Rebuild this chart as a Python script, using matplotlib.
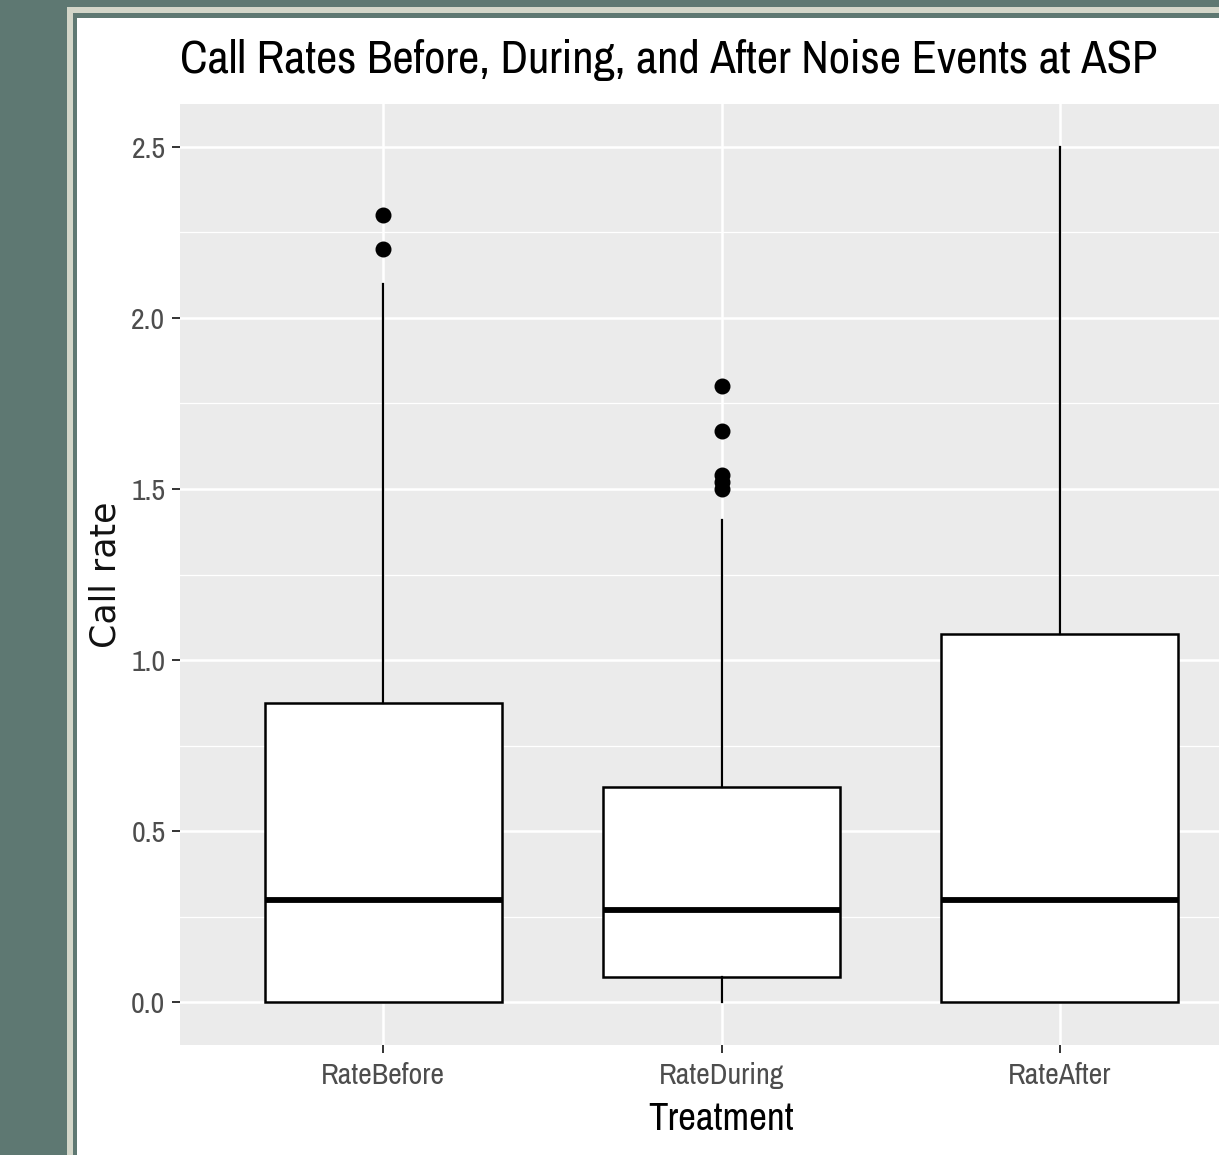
import matplotlib
matplotlib.use("Agg")
import matplotlib.pyplot as plt
from matplotlib import font_manager
from matplotlib.patches import Rectangle

# data
treatments = ["RateBefore", "RateDuring", "RateAfter"]
q1 = [0.0, 0.073, 0.0]
medians = [0.30, 0.27, 0.30]
q3 = [0.875, 0.63, 1.075]
whisker_low = [0.0, 0.0, 0.0]
whisker_high = [2.10, 1.41, 2.50]
outliers = [[2.30, 2.20], [1.80, 1.67, 1.54, 1.52, 1.50], []]
y_ticks = [0.0, 0.5, 1.0, 1.5, 2.0, 2.5]
title = "Call Rates Before, During, and After Noise Events at ASP"

W, H = 1219, 1155

# the reference text looks squeezed, use a narrow face if one exists
names = sorted({f.name for f in font_manager.fontManager.ttflist})
narrow_names = [n for n in names if "Narrow" in n or "Condensed" in n]
narrow = narrow_names[:1] + ["Liberation Sans", "DejaVu Sans"]

fig = plt.figure(figsize=(W / 100, H / 100), dpi=100)
fig.patch.set_facecolor("#5e7872")


def frame_rect(x0, y0, color):
    # rectangle from pixel (x0, y0) to the bottom-right corner of the image
    fig.add_artist(Rectangle((x0 / W, 0), 1 - x0 / W + 0.01, 1 - y0 / H,
                             transform=fig.transFigure, facecolor=color,
                             edgecolor="none", zorder=-10))


def fit_size(txt, family, width_px, start=30):
    # font size that makes txt about width_px wide
    t = fig.text(0, 0, txt, family=family, fontsize=start)
    w = t.get_window_extent(fig.canvas.get_renderer()).width
    t.remove()
    return start * width_px / w


frame_rect(67, 7, "#d3d6c9")
frame_rect(73, 13, "#5e7872")
frame_rect(77, 18, "white")

ax = fig.add_axes([180 / W, (H - 1045) / H, (1263 - 180) / W, (1045 - 104) / H])
ax.set_facecolor("#ebebeb")
for s in ax.spines.values():
    s.set_visible(False)

stats = []
for i, name in enumerate(treatments):
    stats.append(dict(label=name, q1=q1[i], med=medians[i], q3=q3[i],
                      whislo=whisker_low[i], whishi=whisker_high[i],
                      fliers=outliers[i]))

ax.bxp(stats, positions=[1, 2, 3], widths=0.70, showcaps=False,
       patch_artist=True,
       boxprops=dict(facecolor="white", edgecolor="black", linewidth=1.8),
       medianprops=dict(color="black", linewidth=4.2, solid_capstyle="butt"),
       whiskerprops=dict(color="black", linewidth=1.6),
       flierprops=dict(marker="o", markerfacecolor="black",
                       markeredgecolor="black", markersize=10.5),
       zorder=3)

ax.set_xlim(0.4, 3.6)
ax.set_ylim(-0.125, 2.625)
ax.set_yticks(y_ticks)
ax.set_yticklabels([f"{v:.1f}" for v in y_ticks])
ax.set_yticks([0.25, 0.75, 1.25, 1.75, 2.25], minor=True)
ax.set_xticks([1, 2, 3])
ax.set_xticklabels(treatments)

ax.grid(True, which="major", color="white", linewidth=1.8, zorder=0)
ax.grid(True, which="minor", axis="y", color="white", linewidth=0.9, zorder=0)
ax.set_axisbelow(True)

tick_size = min(23.5, fit_size("RateBefore", narrow, 124))
ax.tick_params(axis="both", which="major", length=5.5, width=1.4,
               color="#333333", labelcolor="#4d4d4d", labelsize=tick_size)
ax.tick_params(axis="x", pad=7)
ax.tick_params(axis="y", pad=5)
ax.tick_params(axis="y", which="minor", length=0)
for lab in ax.get_xticklabels() + ax.get_yticklabels():
    lab.set_family(narrow)

xl_size = min(28, fit_size("Treatment", narrow, 148))
ax.set_xlabel("Treatment", family=narrow, fontsize=xl_size, color="black",
              va="top")
ax.xaxis.set_label_coords(0.5, -(1102 - 1045) / (1045 - 104))
ax.set_ylabel("Call rate", family=["DejaVu Sans"], fontsize=25, color="#111111")
ax.yaxis.set_label_coords(-(180 - 123) / (1263 - 180), 0.5)

title_size = min(34, fit_size(title, narrow, 977))
fig.text(180 / W, (H - 73) / H, title, family=narrow, fontsize=title_size,
         color="black", ha="left", va="baseline")

fig.savefig("out.png", dpi=100, facecolor=fig.get_facecolor())
